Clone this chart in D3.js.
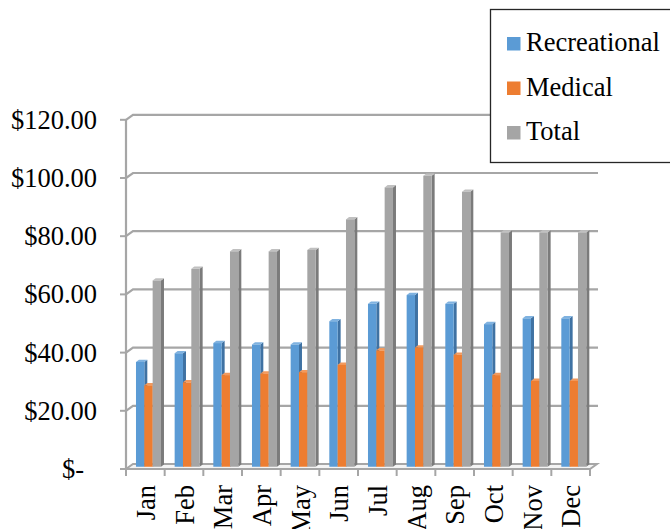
<!DOCTYPE html>
<html>
<head>
<meta charset="utf-8">
<script src="https://cdn.jsdelivr.net/npm/d3@7/dist/d3.min.js"></script>
<style>
  html, body { margin: 0; padding: 0; background: #ffffff; }
  svg { display: block; }
  text { font-family: "Liberation Serif", "Times New Roman", serif; fill: #000; }
</style>
</head>
<body>
<svg id="chart" width="670" height="529"></svg>
<script>
// Monthly sales, in dollars
const months = ["Jan", "Feb", "Mar", "Apr", "May", "Jun", "Jul", "Aug", "Sep", "Oct", "Nov", "Dec"];
const seriesNames = ["Recreational", "Medical", "Total"];
const recreational = [36, 39, 42.5, 42, 42, 50, 56, 59, 56, 49, 51, 51];
const medical = [28, 29, 31.5, 32, 32.5, 35, 40, 41, 38.5, 31.5, 29.5, 29.5];
const total = [64, 68, 74, 74, 74.5, 85, 96, 100, 94.5, 80.5, 80.5, 80.5];
const yTicks = [0, 20, 40, 60, 80, 100, 120];
const yTickLabels = ["$-", "$20.00", "$40.00", "$60.00", "$80.00", "$100.00", "$120.00"];

const seriesValues = [recreational, medical, total];
const faceColors = ["#5b9bd5", "#ed7d31", "#a5a5a5"];
const sideColors = ["#3f72a3", "#b35d22", "#7b7b7b"];
const topColors = ["#7fb2e0", "#f29a5e", "#c0c0c0"];

const fontSize = 26.5;
const svg = d3.select("#chart");

// Oblique 3D projection: the back wall sits up and to the right of the front plane
const depthX = 7, depthY = -5;
const front = { left: 126, right: 590 };
const yFront = d3.scaleLinear().domain([0, 120]).range([469, 119.8]);
const yAt = (v, t) => yFront(v) + depthY * t;   // t: 0 = front, 1 = back
const xFront = d3.scaleBand().domain(months).range([front.left, front.right]).paddingInner(0).paddingOuter(0);

const grid = "#a6a6a6";

// Floor
const floor = [
  [front.left, yAt(0, 0)], [front.right, yAt(0, 0)],
  [front.right + depthX, yAt(0, 1)], [front.left + depthX, yAt(0, 1)]
];
svg.append("path")
  .attr("d", d3.line()(floor) + "Z")
  .attr("fill", "#f4f4f4")
  .attr("stroke", grid)
  .attr("stroke-width", 2);

// Gridlines: short run along the side wall, then across the back wall
yTicks.filter(v => v > 0).forEach(v => {
  svg.append("path")
    .attr("d", d3.line()([
      [front.left, yAt(v, 0)],
      [front.left + depthX, yAt(v, 1)],
      [front.right + depthX + 1, yAt(v, 1)]
    ]))
    .attr("fill", "none")
    .attr("stroke", grid)
    .attr("stroke-width", 2.2);
});

// Value axis line and ticks
svg.append("line")
  .attr("x1", front.left).attr("x2", front.left)
  .attr("y1", yAt(120, 0)).attr("y2", yAt(0, 0))
  .attr("stroke", grid).attr("stroke-width", 2.2);

const yAxisG = svg.append("g");
yTicks.forEach((v, i) => {
  yAxisG.append("line")
    .attr("x1", front.left - 6).attr("x2", front.left)
    .attr("y1", yAt(v, 0)).attr("y2", yAt(v, 0))
    .attr("stroke", grid).attr("stroke-width", 2);
  yAxisG.append("text")
    .attr("x", v === 0 ? 84 : 97)
    .attr("y", yAt(v, 0) + 9)
    .attr("text-anchor", "end")
    .attr("font-size", fontSize)
    .text(yTickLabels[i]);
});

// Category ticks along the front edge of the floor
const xTickPositions = months.map(m => xFront(m)).concat([front.right]);
xTickPositions.forEach(x => {
  svg.append("line")
    .attr("x1", x).attr("x2", x)
    .attr("y1", yAt(0, 0)).attr("y2", yAt(0, 0) + 7)
    .attr("stroke", grid).attr("stroke-width", 2);
});

// Month labels, rotated
months.forEach(m => {
  const cx = xFront(m) + xFront.bandwidth() / 2;
  svg.append("text")
    .attr("transform", `translate(${cx + 1},485) rotate(-90)`)
    .attr("text-anchor", "end")
    .attr("dy", "0.33em")
    .attr("font-size", fontSize)
    .text(m);
});

// Bars: three columns per month, drawn at mid depth with a top and right side face
const barT = 0.45;            // depth of the front face
const barDx = 3, barDy = -2.3; // bar thickness in depth
const xSeries = d3.scaleBand().domain(seriesNames)
  .range([0, xFront.bandwidth()]).paddingInner(0).paddingOuter(0.82);

const barsG = svg.append("g");
months.forEach((m, mi) => {
  seriesNames.forEach((s, si) => {
    const v = seriesValues[si][mi];
    const x0 = xFront(m) + xSeries(s) + depthX * barT;
    const x1 = x0 + xSeries.bandwidth();
    const yTop = yAt(v, barT);
    const yBase = yAt(0, barT);
    const g = barsG.append("g");
    // right side
    g.append("path")
      .attr("d", d3.line()([[x1, yTop], [x1 + barDx, yTop + barDy], [x1 + barDx, yBase + barDy], [x1, yBase]]) + "Z")
      .attr("fill", sideColors[si]);
    // top
    g.append("path")
      .attr("d", d3.line()([[x0, yTop], [x1, yTop], [x1 + barDx, yTop + barDy], [x0 + barDx, yTop + barDy]]) + "Z")
      .attr("fill", topColors[si]);
    // front face
    g.append("rect")
      .attr("x", x0).attr("y", yTop)
      .attr("width", xSeries.bandwidth()).attr("height", yBase - yTop)
      .attr("fill", faceColors[si]);
  });
});

// Legend
const legend = svg.append("g");
legend.append("rect")
  .attr("x", 490.5).attr("y", 9.5)
  .attr("width", 190).attr("height", 153)
  .attr("fill", "#fff")
  .attr("stroke", "#262626").attr("stroke-width", 1.3);
seriesNames.forEach((s, i) => {
  const yy = 37 + i * 44.5;
  legend.append("rect")
    .attr("x", 507).attr("y", yy)
    .attr("width", 13.5).attr("height", 13.5)
    .attr("fill", faceColors[i]);
  legend.append("text")
    .attr("x", 526).attr("y", yy + 14)
    .attr("font-size", fontSize)
    .text(s);
});
</script>
</body>
</html>
